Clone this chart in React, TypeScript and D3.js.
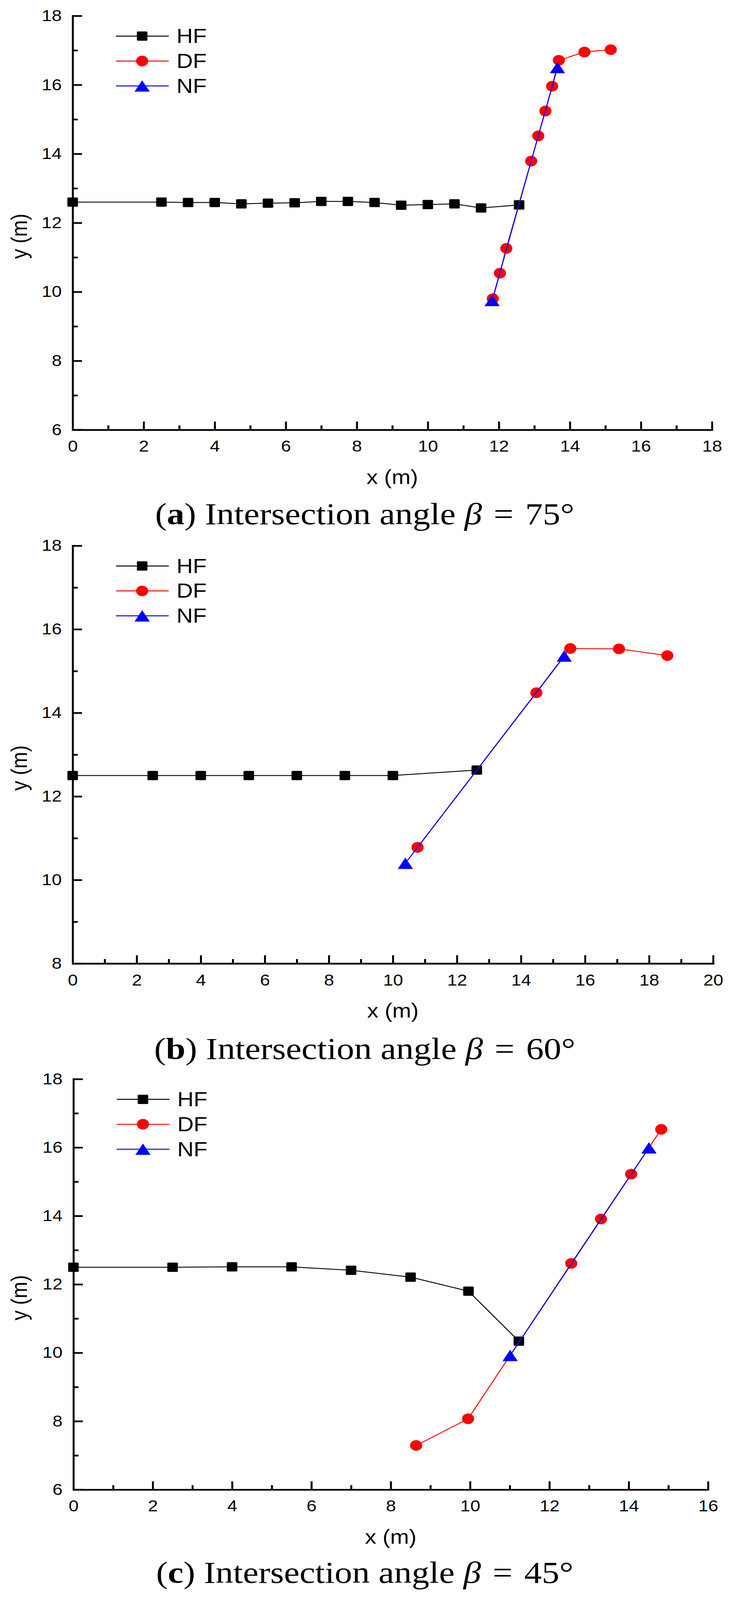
import { useEffect, useRef } from "react";
import * as d3 from "d3";

const PAGE_W = 1882;
const PAGE_H = 4653;
// the photographed area stops at 4096px, so the whole figure is fitted into it
const SHOT_H = 4096;

// ---- (a) intersection angle 75 deg ----
const hfA_x = [0, 2.5, 3.25, 4.0, 4.75, 5.5, 6.25, 7.0, 7.75, 8.5, 9.25, 10.0, 10.75, 11.5, 12.57];
const hfA_y = [12.6, 12.6, 12.59, 12.59, 12.55, 12.57, 12.58, 12.62, 12.62, 12.59, 12.51, 12.53, 12.55, 12.43, 12.52];
const dfA_x = [11.83, 12.03, 12.21, 12.91, 13.11, 13.31, 13.5, 13.69, 14.41, 15.15];
const dfA_y = [9.8, 10.54, 11.26, 13.79, 14.52, 15.24, 15.96, 16.71, 16.95, 17.02];
const nfA_x = [11.81, 13.65];
const nfA_y = [9.75, 16.5];
const xTicksA = [0, 2, 4, 6, 8, 10, 12, 14, 16, 18];
const yTicksA = [6, 8, 10, 12, 14, 16, 18];

// ---- (b) intersection angle 60 deg ----
const hfB_x = [0, 2.5, 4, 5.5, 7, 8.5, 10, 12.62];
const hfB_y = [12.5, 12.5, 12.5, 12.5, 12.5, 12.5, 12.5, 12.63];
const dfB_x = [10.77, 14.48, 15.54, 17.06, 18.57];
const dfB_y = [10.78, 14.48, 15.54, 15.53, 15.37];
const nfB_x = [10.39, 15.35];
const nfB_y = [10.4, 15.36];
const xTicksB = [0, 2, 4, 6, 8, 10, 12, 14, 16, 18, 20];
const yTicksB = [8, 10, 12, 14, 16, 18];

// ---- (c) intersection angle 45 deg ----
const hfC_x = [0, 2.5, 4, 5.5, 7, 8.5, 9.96, 11.23];
const hfC_y = [12.5, 12.5, 12.51, 12.51, 12.41, 12.21, 11.8, 10.34];
const dfC_x = [8.64, 9.95, 12.55, 13.3, 14.06, 14.82];
const dfC_y = [7.29, 8.07, 12.61, 13.91, 15.22, 16.53];
const nfC_x = [11.01, 14.51];
const nfC_y = [9.92, 15.99];
const xTicksC = [0, 2, 4, 6, 8, 10, 12, 14, 16];
const yTicksC = [6, 8, 10, 12, 14, 16, 18];

const seriesNames = ["HF", "DF", "NF"];
const seriesColors = ["#000000", "#ff0000", "#0000ff"];
const captionLetters = ["a", "b", "c"];
const captionAngles = ["75", "60", "45"];

const panels = [
  { xTicks: xTicksA, yTicks: yTicksA, data: [[hfA_x, hfA_y], [dfA_x, dfA_y], [nfA_x, nfA_y]] },
  { xTicks: xTicksB, yTicks: yTicksB, data: [[hfB_x, hfB_y], [dfB_x, dfB_y], [nfB_x, nfB_y]] },
  { xTicks: xTicksC, yTicks: yTicksC, data: [[hfC_x, hfC_y], [dfC_x, dfC_y], [nfC_x, nfC_y]] },
];

// pixel boxes of each plot area (layout only)
const boxes = [
  { left: 186, right: 1823, top: 46, bottom: 1250, caption: 1525 },
  { left: 186, right: 1826, top: 1587, bottom: 2802, caption: 3080 },
  { left: 188, right: 1813, top: 3138, bottom: 4332, caption: 4603 },
];

const SANS = "'Liberation Sans', Arial, Helvetica, sans-serif";
const SERIF = "'Liberation Serif', 'Times New Roman', serif";

function midpoints(ticks: number[]) {
  return ticks.slice(1).map((t, i) => (t + ticks[i]) / 2);
}

// draw a marker of the given series index at (cx, cy)
function drawMarker(g: d3.Selection<SVGGElement, unknown, null, undefined>, idx: number, cx: number, cy: number) {
  const color = seriesColors[idx];
  if (idx === 0) {
    const s = 27;
    g.append("rect")
      .attr("x", cx - s / 2)
      .attr("y", cy - s / 2)
      .attr("width", s)
      .attr("height", s)
      .attr("rx", 2.5)
      .attr("fill", color);
  } else if (idx === 1) {
    g.append("circle").attr("cx", cx).attr("cy", cy).attr("r", 15.5).attr("fill", color);
  } else {
    const w = 39;
    const h = 33;
    g.append("path")
      .attr("d", `M${cx},${cy - h / 2}L${cx + w / 2},${cy + h / 2}L${cx - w / 2},${cy + h / 2}Z`)
      .attr("fill", color);
  }
}

export default function App() {
  const svgRef = useRef<SVGSVGElement>(null);

  useEffect(() => {
    if (!svgRef.current) return;
    const svg = d3.select(svgRef.current);
    svg.selectAll("*").remove();

    panels.forEach((p, pi) => {
      const b = boxes[pi];
      const xDom = [p.xTicks[0], p.xTicks[p.xTicks.length - 1]];
      const yDom = [p.yTicks[0], p.yTicks[p.yTicks.length - 1]];
      const x = d3.scaleLinear().domain(xDom).range([b.left, b.right]);
      const y = d3.scaleLinear().domain(yDom).range([b.bottom, b.top]);

      const g = svg.append("g");

      // minor ticks
      g.append("g")
        .attr("transform", `translate(0,${b.bottom})`)
        .call(d3.axisBottom(x).tickValues(midpoints(p.xTicks)).tickSize(-13).tickFormat(() => ""))
        .call((a) => {
          a.select(".domain").remove();
          a.selectAll("line").attr("stroke", "#000").attr("stroke-width", 5);
        });
      g.append("g")
        .attr("transform", `translate(${b.left},0)`)
        .call(d3.axisLeft(y).tickValues(midpoints(p.yTicks)).tickSize(-13).tickFormat(() => ""))
        .call((a) => {
          a.select(".domain").remove();
          a.selectAll("line").attr("stroke", "#000").attr("stroke-width", 5);
        });

      // major ticks + labels
      g.append("g")
        .attr("transform", `translate(0,${b.bottom})`)
        .call(
          d3.axisBottom(x).tickValues(p.xTicks).tickSizeInner(-24).tickSizeOuter(0).tickPadding(31)
            .tickFormat((d) => String(d))
        )
        .call((a) => {
          a.select(".domain").attr("stroke", "#000").attr("stroke-width", 5).attr("stroke-linecap", "square");
          a.selectAll("line").attr("stroke", "#000").attr("stroke-width", 5);
          a.selectAll("text").attr("fill", "#000").attr("font-size", 46).attr("font-family", SANS);
        });
      g.append("g")
        .attr("transform", `translate(${b.left},0)`)
        .call(
          d3.axisLeft(y).tickValues(p.yTicks).tickSizeInner(-24).tickSizeOuter(0).tickPadding(28)
            .tickFormat((d) => String(d))
        )
        .call((a) => {
          a.select(".domain").attr("stroke", "#000").attr("stroke-width", 5).attr("stroke-linecap", "square");
          a.selectAll("line").attr("stroke", "#000").attr("stroke-width", 5);
          a.selectAll("text").attr("fill", "#000").attr("font-size", 46).attr("font-family", SANS);
        });

      // axis titles
      g.append("text")
        .attr("x", (b.left + b.right) / 2)
        .attr("y", b.bottom + 157)
        .attr("text-anchor", "middle")
        .attr("font-size", 58)
        .attr("font-family", SANS)
        .text("x (m)");
      g.append("text")
        .attr("transform", `translate(69,${(b.top + b.bottom) / 2 + 39}) rotate(-90)`)
        .attr("text-anchor", "middle")
        .attr("font-size", 58)
        .attr("font-family", SANS)
        .text("y (m)");

      // series lines then markers
      p.data.forEach(([xs, ys], si) => {
        const pts = xs.map((v, i) => [v, ys[i]] as [number, number]);
        const line = d3.line<[number, number]>().x((d) => x(d[0])).y((d) => y(d[1]));
        const sg = g.append("g");
        sg.append("path")
          .attr("d", line(pts))
          .attr("fill", "none")
          .attr("stroke", seriesColors[si])
          .attr("stroke-width", 2.6);
        pts.forEach((d) => drawMarker(sg, si, x(d[0]), y(d[1])));
      });

      // legend
      seriesNames.forEach((name, si) => {
        const ly = b.top + 59 + si * 72.5;
        const lg = g.append("g");
        lg.append("line")
          .attr("x1", b.left + 111)
          .attr("x2", b.left + 246)
          .attr("y1", ly)
          .attr("y2", ly)
          .attr("stroke", seriesColors[si])
          .attr("stroke-width", 2.8);
        drawMarker(lg, si, b.left + 178, ly);
        lg.append("text")
          .attr("x", b.left + 266)
          .attr("y", ly + 20)
          .attr("font-size", 58)
          .attr("font-family", SANS)
          .text(name);
      });

      // caption
      const cap = svg.append("text")
        .attr("x", 934)
        .attr("y", b.caption)
        .attr("text-anchor", "middle")
        .attr("font-size", 90)
        .attr("font-family", SERIF);
      cap.append("tspan").text("(");
      cap.append("tspan").attr("font-weight", "bold").text(captionLetters[pi]);
      cap.append("tspan").text(") Intersection angle ");
      cap.append("tspan").attr("font-style", "italic").text("\u03b2");
      cap.append("tspan").text(`\u2004=\u2004${captionAngles[pi]}\u00b0`);
    });
  }, []);

  return (
    <div style={{ width: PAGE_W, height: SHOT_H, margin: -8, background: "#fff", overflow: "hidden" }}>
      <svg
        ref={svgRef}
        width={PAGE_W}
        height={SHOT_H}
        viewBox={`0 0 ${PAGE_W} ${PAGE_H}`}
        preserveAspectRatio="none"
        style={{ display: "block" }}
      />
    </div>
  );
}
